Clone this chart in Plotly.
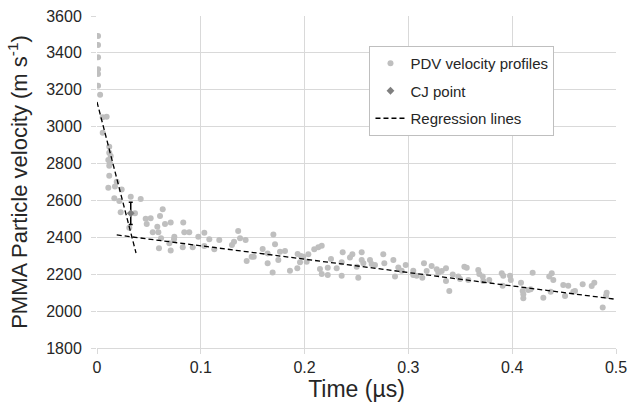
import plotly.graph_objects as go

# PDV velocity profile samples (time in µs, velocity in m/s)
pdv_t = [0.001, 0.001, 0.001, 0.001, 0.001, 0.001, 0.003, 0.0055, 0.0093, 0.0055,
         0.0118, 0.0118, 0.0132, 0.0109, 0.0125, 0.0118, 0.0118, 0.019, 0.0109, 0.0173,
         0.0238, 0.0167, 0.0215, 0.0228, 0.0325, 0.0421, 0.0366, 0.0311, 0.0469, 0.0517,
         0.0479, 0.0537, 0.0581, 0.0607, 0.0633, 0.0591, 0.0655, 0.071, 0.0617, 0.0597,
         0.071, 0.0697, 0.0745, 0.0742, 0.0831, 0.0841, 0.0889, 0.0826, 0.0922, 0.0976,
         0.1034, 0.1034, 0.1082, 0.113, 0.1178, 0.13, 0.132, 0.136,
         0.1378, 0.1432, 0.1442, 0.149, 0.151, 0.1596, 0.1644, 0.1644, 0.1699, 0.1715,
         0.1692, 0.1747, 0.1763, 0.1811, 0.1859, 0.193, 0.1933, 0.1965, 0.1988, 0.2036,
         0.1956, 0.202, 0.2093, 0.2132, 0.2165, 0.2148, 0.2165, 0.2223, 0.2223,
         0.2254, 0.2309, 0.2357, 0.2357, 0.2367, 0.2437, 0.246, 0.2502, 0.2517, 0.255,
         0.255, 0.2566, 0.263, 0.2646, 0.2678, 0.2758, 0.2768, 0.2855, 0.2871, 0.2903,
         0.2935, 0.2974, 0.3047, 0.3047, 0.308, 0.3134, 0.315, 0.3176, 0.3224, 0.3273,
         0.3288, 0.3321, 0.3362, 0.3362, 0.3394, 0.3427, 0.3481, 0.3497, 0.3539, 0.3562,
         0.3577,
         0.3673, 0.3683, 0.3716, 0.3722, 0.3779, 0.3899, 0.3908, 0.3914, 0.3979, 0.3986,
         0.4085, 0.4101, 0.4107, 0.4107, 0.4155, 0.4178, 0.4197, 0.43, 0.4357, 0.4381,
         0.4396, 0.4371, 0.4492, 0.454, 0.4509, 0.4589, 0.4605, 0.4679, 0.4766, 0.4791,
         0.491, 0.4904, 0.4872]
pdv_v = [3492, 3443, 3376, 3311, 3286, 3222, 3173, 3051, 3054, 2967,
         2891, 2859, 2841, 2819, 2801, 2788, 2734, 2702, 2669, 2675,
         2660, 2612, 2597, 2536, 2620, 2608, 2530, 2452, 2501, 2503,
         2472, 2427, 2458, 2516, 2552, 2427, 2472, 2481, 2395, 2341,
         2328, 2368, 2403, 2389, 2481, 2427, 2427, 2346, 2346, 2403,
         2425, 2353, 2389, 2335, 2386, 2358, 2376, 2434,
         2395, 2386, 2272, 2295, 2295, 2337, 2313, 2259, 2416, 2362,
         2210, 2277, 2322, 2326, 2219, 2232, 2310, 2299, 2295, 2308,
         2265, 2268, 2335, 2346, 2355, 2228, 2201, 2235, 2196,
         2283, 2232, 2265, 2192, 2319, 2290, 2308, 2241, 2181, 2319,
         2277, 2259, 2277, 2255, 2250, 2308, 2259, 2277, 2187, 2237,
         2219, 2250, 2219, 2196, 2192, 2181, 2259, 2217, 2245, 2227,
         2208, 2217, 2232, 2163, 2109, 2199, 2187, 2174, 2241, 2235,
         2169,
         2223, 2201, 2187, 2163, 2169, 2205, 2138, 2192, 2192, 2169,
         2154, 2109, 2070, 2091, 2114, 2118, 2208, 2073, 2187, 2205,
         2169, 2105, 2142, 2138, 2082, 2105, 2109, 2145, 2136, 2154,
         2100, 2083, 2019]

# CJ point
cj_t = [0.0325]
cj_v = [2530]
cj_err = [60]

# Regression lines (end points)
reg1_t = [0.0, 0.0376]
reg1_v = [3134, 2315]
reg2_t = [0.019, 0.5]
reg2_v = [2413, 2064]

x_ticks = [0, 0.1, 0.2, 0.3, 0.4, 0.5]
x_tick_labels = ["0", "0.1", "0.2", "0.3", "0.4", "0.5"]
y_ticks = [1800, 2000, 2200, 2400, 2600, 2800, 3000, 3200, 3400, 3600]

fig = go.Figure()
fig.add_trace(go.Scatter(
    x=pdv_t, y=pdv_v, mode="markers", name="PDV velocity profiles",
    legendgroup="a",
    marker=dict(color="#bfbfbf", size=6, line=dict(width=0))))
fig.add_trace(go.Scatter(
    x=cj_t, y=cj_v, mode="markers", name="CJ point", legendgroup="b",
    marker=dict(color="#7f7f7f", size=6, symbol="diamond"),
    error_y=dict(type="data", array=cj_err, visible=True, color="#000000",
                 thickness=1.5, width=2)))
fig.add_trace(go.Scatter(
    x=reg1_t, y=reg1_v, mode="lines", name="Regression lines", legendgroup="c",
    line=dict(color="#000000", width=1.3, dash="5px,3px")))
fig.add_trace(go.Scatter(
    x=reg2_t, y=reg2_v, mode="lines", name="Regression lines", legendgroup="c",
    showlegend=False,
    line=dict(color="#000000", width=1.3, dash="5px,3px")))

fig.update_layout(
    width=636, height=406,
    margin=dict(l=97, r=20, t=16, b=58),
    paper_bgcolor="white", plot_bgcolor="white",
    font=dict(family="Liberation Sans, Arial, sans-serif", color="#262626"),
    showlegend=True,
    legend=dict(x=0.525, y=0.9096, xanchor="left", yanchor="top",
                bgcolor="white", bordercolor="#bfbfbf", borderwidth=1,
                font=dict(size=15, color="#262626"), tracegroupgap=5,
                itemwidth=30),
)
fig.update_xaxes(
    range=[0, 0.5], tickvals=x_ticks, ticktext=x_tick_labels,
    automargin=False,
    showgrid=True, gridcolor="#d9d9d9", gridwidth=1,
    zeroline=False, showline=True, linecolor="#d9d9d9",
    ticks="outside", ticklen=5, tickcolor="#d9d9d9",
    tickfont=dict(size=16),
    title=dict(text="Time (µs)", font=dict(size=23), standoff=0))
fig.update_yaxes(
    range=[1800, 3600], tickvals=y_ticks,
    automargin=False,
    showgrid=True, gridcolor="#d9d9d9", gridwidth=1,
    zeroline=False, showline=False,
    ticks="outside", ticklen=5, tickcolor="#d9d9d9",
    ticklabelstandoff=6,
    tickfont=dict(size=16),
    title=dict(text="PMMA Particle velocity (m s<sup>-1</sup>)", font=dict(size=22), standoff=12))

fig.write_html("out.html",
               config={"displayModeBar": False},
               post_script="document.body.style.margin='0px';document.body.style.padding='0px';")
